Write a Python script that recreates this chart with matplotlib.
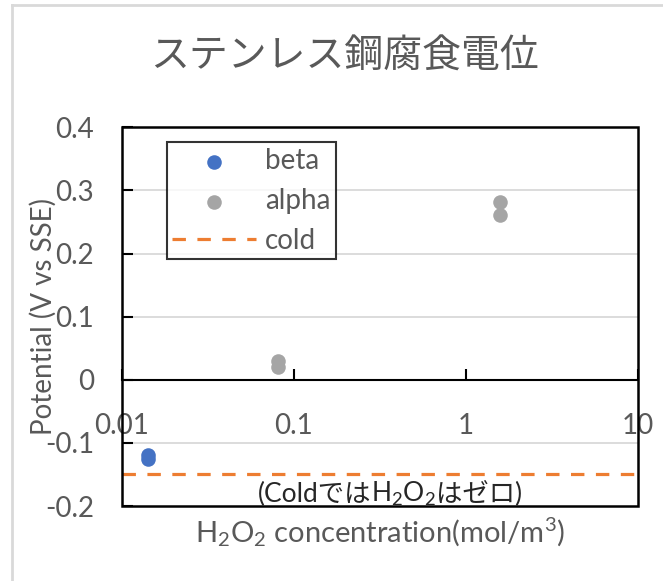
import matplotlib
matplotlib.use('Agg')
import matplotlib.pyplot as plt
from matplotlib.lines import Line2D
from matplotlib.patches import Rectangle
from matplotlib.offsetbox import TextArea, HPacker, AnnotationBbox

# fonts: Latin like Calibri, Japanese from Noto CJK
plt.rcParams['font.family'] = ['Lato', 'Noto Sans CJK JP', 'DejaVu Sans']
plt.rcParams['mathtext.fontset'] = 'custom'
plt.rcParams['mathtext.rm'] = 'Lato'
plt.rcParams['mathtext.it'] = 'Lato:italic'
plt.rcParams['mathtext.bf'] = 'Lato:bold'
plt.rcParams['mathtext.default'] = 'regular'
plt.rcParams['axes.unicode_minus'] = False

# data
beta_x = [0.0141, 0.0141]
beta_y = [-0.119, -0.125]
alpha_x = [0.081, 0.081, 1.58, 1.58]
alpha_y = [0.029, 0.021, 0.282, 0.261]
cold_y = -0.15

x_ticks = [0.01, 0.1, 1, 10]
x_tick_labels = ['0.01', '0.1', '1', '10']
y_ticks = [-0.2, -0.1, 0, 0.1, 0.2, 0.3, 0.4]
y_tick_labels = ['-0.2', '-0.1', '0', '0.1', '0.2', '0.3', '0.4']
grid_y = [-0.1, 0.1, 0.2, 0.3]

title = 'ステンレス鋼腐食電位'
note_parts = ['(Coldでは', 'H$_2$O$_2$', 'はゼロ)']
note_x, note_y = 0.362, -0.181

gray_text = '#595959'

fig = plt.figure(figsize=(6.63, 5.81), dpi=100)
ax = fig.add_axes([0.184, 0.129, 0.778, 0.652])

ax.set_xscale('log')
ax.set_xlim(0.01, 10)
ax.set_ylim(-0.2, 0.4)

# horizontal gridlines
for y in grid_y:
    ax.axhline(y, color='#D9D9D9', lw=1.3, zorder=0)

ax.scatter(beta_x, beta_y, s=110, color='#4472C4', label='beta', zorder=3, linewidths=0)
ax.scatter(alpha_x, alpha_y, s=110, color='#A5A5A5', label='alpha', zorder=3, linewidths=0)
ax.axhline(cold_y, color='#ED7D31', lw=2.3, linestyle=(0, (4.2, 3.6)), label='cold', zorder=2)

# x axis crosses at y = 0, full black frame around plot area
for side in ['top', 'right', 'left']:
    ax.spines[side].set_visible(False)
ax.spines['bottom'].set_position(('data', 0))
ax.spines['bottom'].set_linewidth(1.5)
ax.add_patch(Rectangle((0, 0), 1, 1, transform=ax.transAxes, fill=False,
                       edgecolor='black', lw=1.8, zorder=4, clip_on=False))

ax.set_xticks(x_ticks)
ax.set_xticklabels(x_tick_labels)
ax.xaxis.set_minor_locator(matplotlib.ticker.NullLocator())
ax.set_yticks(y_ticks)
ax.set_yticklabels(y_tick_labels)
ax.tick_params(axis='both', direction='in', length=8, width=1.5, colors='black',
               labelcolor=gray_text, labelsize=20)
ax.tick_params(axis='y', pad=20)
ax.tick_params(axis='x', pad=24)

ax.set_ylabel('Potential (V vs SSE)', fontsize=20, color=gray_text)
ax.yaxis.set_label_coords(-0.127, 0.5)
ax.set_xlabel('H$_2$O$_2$ concentration(mol/m$^3$)', fontsize=21, color=gray_text)
ax.xaxis.set_label_coords(0.5, -0.026)

# note under the cold line, pieced together so that the subscripts work with CJK text
areas = [TextArea(p, textprops=dict(fontsize=19, color='#262626')) for p in note_parts]
note_box = HPacker(children=areas, align='baseline', pad=0, sep=0)
ax.add_artist(AnnotationBbox(note_box, (note_x, note_y), xycoords='data',
                             frameon=False, box_alignment=(0.5, 0.5), zorder=5))

leg = ax.legend(loc='upper left', bbox_to_anchor=(0.087, 0.96), fontsize=20,
                frameon=True, fancybox=False, handlelength=3.0, handletextpad=0.32,
                labelspacing=0.5, borderpad=0.2, borderaxespad=0)
leg.get_frame().set_edgecolor('black')
leg.get_frame().set_linewidth(1.5)
for t in leg.get_texts():
    t.set_color(gray_text)

fig.text(0.520, 0.902, title, fontsize=28, color=gray_text, ha='center', va='center',
         family=['Noto Sans CJK JP', 'DejaVu Sans'])

# outer chart border (left and top edges visible)
fig.add_artist(Line2D([0.018, 0.018], [0, 0.991], transform=fig.transFigure,
                      color='#D9D9D9', lw=2))
fig.add_artist(Line2D([0.018, 1], [0.991, 0.991], transform=fig.transFigure,
                      color='#D9D9D9', lw=2))

fig.savefig('out.png', dpi=100)
